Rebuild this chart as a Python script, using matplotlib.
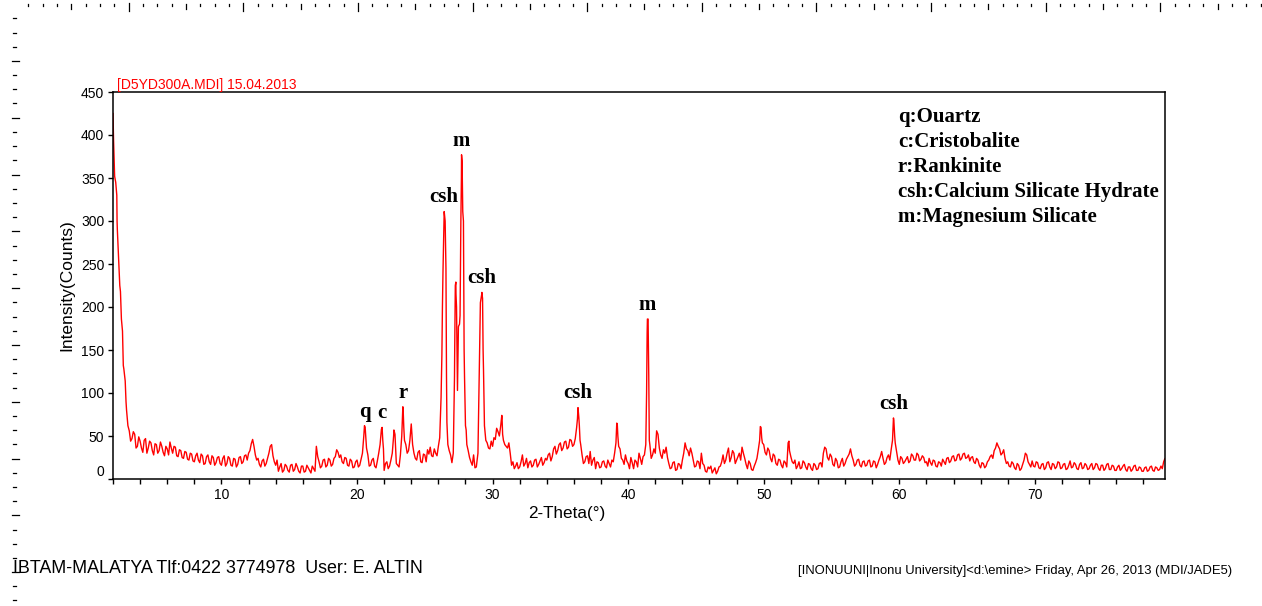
import numpy as np
import matplotlib
matplotlib.use("Agg")
import matplotlib.pyplot as plt
from matplotlib.ticker import MultipleLocator

# ─── Data ────────────────────────────────────────────────────────────────────
# counts on the regular 0.1 deg grid, one row per 2 deg
scan_counts = [
    425, 360, 345, 300, 262, 225, 195, 172, 128, 114, 80, 62, 56, 44, 47, 55, 52, 36, 38, 49,      # 2
    44, 36, 31, 45, 47, 30, 36, 44, 42, 33, 28, 41, 40, 30, 33, 43, 38, 31, 27, 38,                # 4
    35, 28, 43, 36, 30, 38, 37, 27, 26, 34, 33, 25, 24, 32, 31, 23, 22, 30, 29, 21,                # 6
    20, 27, 30, 22, 19, 29, 27, 17, 18, 26, 28, 20, 17, 27, 25, 16, 19, 25, 26, 18,                # 8
    16, 24, 27, 15, 18, 26, 24, 16, 15, 24, 23, 14, 17, 25, 26, 18, 20, 27, 28, 22,                # 10
    30, 33, 41, 46, 38, 28, 22, 24, 17, 14, 21, 23, 15, 18, 24, 30, 38, 40, 27, 20,                # 12
    16, 22, 9, 14, 18, 8, 10, 17, 15, 10, 8, 16, 17, 9, 11, 18, 14, 9, 7, 15,                      # 14
    15, 8, 9, 16, 13, 10, 7, 15, 12, 9, 38, 26, 20, 13, 15, 22, 23, 14, 16, 24,                    # 16
    22, 15, 17, 24, 26, 34, 31, 25, 28, 20, 18, 25, 24, 16, 15, 23, 21, 13, 14, 20,                # 18
    22, 14, 16, 23, 30, 50, 60, 36, 28, 15, 16, 22, 24, 15, 13, 21, 30, 40, 58, 45,                # 20
    10, 18, 20, 12, 15, 22, 30, 50, 52, 18, 16, 14, 28, 50, 82, 45, 40, 30, 33, 45,                # 22
    64, 40, 30, 24, 22, 31, 33, 20, 19, 29, 28, 20, 34, 29, 37, 27, 26, 35, 30, 27,                # 24
    38, 48, 95, 200, 290, 300, 120, 40, 33, 28, 19, 30, 140, 215, 108, 178, 190, 350, 311, 150,   # 26
    62, 40, 33, 25, 20, 16, 28, 13, 14, 28, 110, 205, 215, 150, 62, 45, 42, 36, 35, 44,           # 28
    38, 48, 46, 59, 55, 50, 62, 70, 45, 40, 38, 36, 42, 30, 16, 20, 12, 15, 19, 12,                # 30
    14, 20, 28, 15, 18, 24, 13, 19, 21, 14, 16, 22, 23, 14, 17, 21, 25, 16, 19, 24,                # 32
    22, 28, 30, 21, 26, 35, 38, 29, 33, 40, 42, 33, 36, 43, 44, 35, 37, 46, 45, 38,                # 34
    40, 47, 60, 83, 62, 40, 28, 18, 20, 26, 27, 18, 32, 16, 22, 25, 12, 20, 19, 13,                # 36
    14, 20, 21, 15, 13, 22, 18, 14, 22, 20, 30, 42, 63, 38, 35, 24, 22, 17, 28, 21,                # 38
    18, 12, 25, 19, 12, 22, 20, 14, 30, 24, 17, 26, 28, 40, 170, 150, 40, 24, 28, 35,              # 40
    30, 56, 52, 36, 28, 24, 34, 30, 37, 25, 18, 12, 13, 19, 20, 10, 11, 18, 17, 12,                # 42
    22, 30, 42, 35, 33, 27, 36, 30, 22, 14, 15, 21, 20, 12, 30, 18, 16, 9, 8, 14,                  # 44
    12, 15, 7, 10, 13, 6, 9, 14, 15, 20, 28, 18, 22, 30, 36, 20, 25, 33, 30, 18,                   # 46
    22, 26, 30, 22, 37, 30, 24, 17, 12, 21, 18, 11, 10, 15, 19, 24, 34, 45, 60, 42,                # 48
    40, 31, 28, 36, 33, 24, 20, 29, 27, 18, 16, 23, 22, 16, 13, 21, 19, 14, 42, 33,                # 50
    26, 20, 18, 22, 12, 15, 20, 12, 13, 21, 19, 14, 11, 18, 17, 12, 10, 18, 16, 11,                # 52
    12, 18, 19, 14, 30, 37, 35, 25, 22, 29, 26, 17, 15, 24, 21, 13, 14, 20, 24, 15,                # 54
    18, 23, 26, 29, 35, 27, 22, 15, 17, 22, 23, 16, 14, 20, 21, 15, 16, 21, 22, 14,                # 56
    15, 21, 20, 13, 17, 22, 26, 32, 24, 17, 19, 25, 28, 22, 34, 45, 68, 42, 32, 22,                # 58
    17, 26, 24, 18, 20, 23, 26, 19, 21, 29, 27, 22, 22, 30, 28, 21, 23, 27, 25, 19,                # 60
    20, 15, 24, 19, 16, 22, 21, 15, 14, 20, 19, 15, 23, 20, 17, 24, 25, 19, 21, 26,                # 62
    27, 21, 22, 28, 29, 22, 24, 29, 30, 24, 25, 28, 21, 25, 26, 20, 18, 24, 22, 16,                # 64
    13, 19, 18, 13, 15, 20, 22, 26, 28, 24, 33, 36, 42, 38, 35, 28, 30, 34, 24, 18,                # 66
    20, 15, 14, 20, 18, 13, 11, 18, 16, 10, 12, 17, 22, 30, 28, 20, 17, 14, 21, 15,                # 68
    14, 20, 19, 13, 12, 17, 18, 11, 13, 19, 20, 14, 11, 18, 17, 12, 14, 20, 19, 12,                # 70
    13, 17, 18, 11, 12, 16, 21, 13, 14, 19, 17, 12, 11, 17, 19, 12, 13, 18, 16, 11,                # 72
    12, 16, 18, 11, 13, 18, 17, 12, 10, 16, 16, 10, 12, 17, 18, 11, 11, 16, 15, 10,                # 74
    10, 14, 16, 10, 12, 15, 17, 11, 9, 14, 14, 9, 11, 15, 16, 10, 10, 14, 13, 9,                   # 76
    9, 13, 14, 9, 10, 14, 15, 10, 9, 14, 13, 10, 11, 15, 12, 20, 24, 22, 21, 23,                   # 78
    24,                                                                                            # 80
]
scan_theta = np.round(np.linspace(2.0, 80.0, len(scan_counts)), 2)

# extra points where the peaks are sharper than the grid
peak_theta = [2.04, 2.12, 2.28, 2.32, 2.48, 2.55, 2.62, 2.76, 2.96,
              20.55, 20.65, 21.85, 21.95, 22.72, 23.38, 23.45,
              26.26, 26.34, 26.43, 26.56, 26.63, 27.19, 27.25, 27.29, 27.34,
              27.41, 27.48, 27.56, 27.66, 27.71, 27.75, 27.85, 27.93, 28.05,
              28.92, 29.03, 29.21, 29.26, 29.33,
              30.68, 30.74,
              36.26, 36.36, 36.45,
              39.16, 39.24,
              41.36, 41.42, 41.47, 41.52, 41.56,
              49.75, 49.85, 51.86,
              59.57, 59.66, 59.72]
peak_counts = [395, 352, 330, 290, 232, 218, 186, 132, 90,
               62, 48, 60, 35, 57, 84, 60,
               144, 240, 311, 245, 66, 119, 225, 229, 200,
               103, 177, 180, 300, 377, 370, 300, 119, 57,
               30, 142, 217, 210, 127,
               74, 52,
               70, 72, 45,
               65, 50,
               100, 186, 186, 120, 45,
               61, 48, 44,
               71, 50, 40]

label_theta = [20.55, 21.85, 23.38, 26.43, 27.71, 29.21, 36.3, 41.42, 59.57]
label_text = ["q", "c", "r", "csh", "m", "csh", "csh", "m", "csh"]

legend_lines = ["q:Ouartz", "c:Cristobalite", "r:Rankinite",
                "csh:Calcium Silicate Hydrate", "m:Magnesium Silicate"]

theta = np.concatenate([scan_theta, peak_theta])
counts = np.concatenate([scan_counts, peak_counts]).astype(float)
order = np.argsort(theta, kind="stable")
theta, counts = theta[order], counts[order]

# ─── Figure ──────────────────────────────────────────────────────────────────
W, H = 1262, 606
fig = plt.figure(figsize=(W / 100, H / 100), dpi=100)
fig.patch.set_facecolor("white")

SANS = ["Liberation Sans", "DejaVu Sans"]
SERIF = ["Liberation Serif", "DejaVu Serif"]

# page rulers (top and left)
deco = fig.add_axes([0, 0, 1, 1], zorder=-1)
deco.set_xlim(0, W); deco.set_ylim(H, 0); deco.axis("off")
for i in range(87):
    x = 28.3 + i * 14.33
    if i % 8 == 7:
        deco.plot([x, x], [3, 11], color="black", lw=0.9)
    elif i % 8 == 3:
        deco.plot([x, x], [4, 8.5], color="black", lw=0.9)
    else:
        deco.plot([x, x], [3.5, 5.5], color="black", lw=0.9)
for j in range(42):
    y = 18.3 + j * 14.2
    if j % 4 == 3:
        deco.plot([11.5, 18.5], [y, y], color="black", lw=0.9)
    else:
        deco.plot([13, 15.5], [y, y], color="black", lw=0.9)

# axes box: left 113, right 1165, top 92, bottom 479 (pixels)
ax = fig.add_axes([113 / W, (H - 479) / H, 1052 / W, 387 / H])
ax.plot(theta, counts, color="#ff0000", lw=1.0)
ax.set_xlim(2, 79.6)
ax.set_ylim(0, 450)

ax.set_xticks([10, 20, 30, 40, 50, 60, 70])
ax.xaxis.set_minor_locator(MultipleLocator(2))
ax.set_yticks(np.arange(0, 451, 50))
ax.tick_params(axis="both", which="both", direction="out", length=3.8, width=1.0,
               colors="black", labelsize=10, pad=2.5)
for lab in ax.get_xticklabels() + ax.get_yticklabels():
    lab.set_family(SANS)
ax.get_yticklabels()[0].set_va("bottom")
for s in ax.spines.values():
    s.set_linewidth(1.1)
    s.set_color("black")

ax.set_xlabel("2-Theta(°)", fontsize=12.3, family=SANS)
ax.xaxis.set_label_coords(0.4316, -0.07)
ax.set_ylabel("Intensity(Counts)", fontsize=12.5, family=SANS)
ax.yaxis.set_label_coords(-0.037, 0.5)

# peak labels
for t, txt in zip(label_theta, label_text):
    near = np.abs(theta - t) < 0.12
    ax.annotate(txt, xy=(t, counts[near].max()), xytext=(0, 3), textcoords="offset points",
                ha="center", va="bottom", fontsize=15, fontweight="bold", family=SERIF)

# phase key
for k, line in enumerate(legend_lines):
    ax.text((898 - 113) / 1052, (479 - 122.3 - k * 25) / 387, line, transform=ax.transAxes,
            ha="left", va="baseline", fontsize=15, fontweight="bold", family=SERIF)

# page texts
fig.text(117 / W, 1 - 88.5 / H, "[D5YD300A.MDI] 15.04.2013", color="#ff0000",
         fontsize=10, family=SANS, ha="left", va="baseline")
fig.text(13 / W, 1 - 573 / H, "IBTAM-MALATYA Tlf:0422 3774978  User: E. ALTIN",
         fontsize=12.9, family=SANS, ha="left", va="baseline")
fig.text(1232 / W, 1 - 574 / H,
         "[INONUUNI|Inonu University]<d:\\emine> Friday, Apr 26, 2013 (MDI/JADE5)",
         fontsize=9.4, family=SANS, ha="right", va="baseline")

fig.savefig("out.png", dpi=100, facecolor="white")
